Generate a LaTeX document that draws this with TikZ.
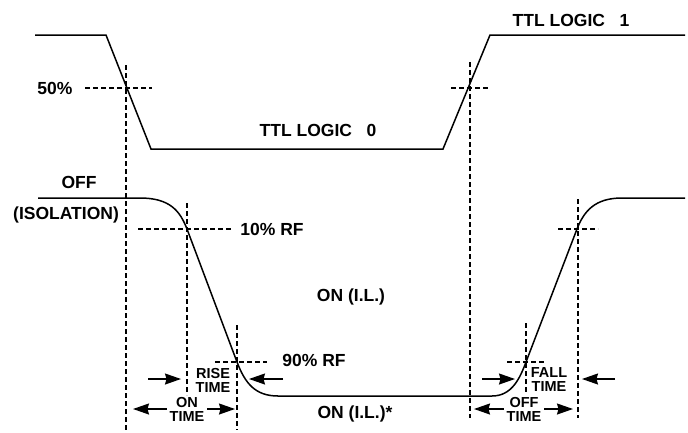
\documentclass[tikz,border=0pt]{standalone}
\usepackage{fontspec}
\setmainfont{Liberation Sans}
\usetikzlibrary{arrows.meta}

\begin{document}
\begin{tikzpicture}[x=1pt,y=-1pt,line width=1.5pt,>=Stealth,
  guide/.style={line width=1.2pt,dash pattern=on 5pt off 3pt},
  tarr/.style={->,line width=1.4pt,>={Stealth[length=16pt,width=11pt,inset=1.5pt]}},
  lbl/.style={font=\fontsize{17.5}{20}\selectfont\bfseries,inner sep=0pt},
  slbl/.style={font=\fontsize{14.5}{14}\selectfont\bfseries,align=center,inner sep=0pt}]
\useasboundingbox (0,0) rectangle (688,432);
% TTL control signal
\draw (35,35) -- (106,35) -- (151,149) -- (443,149) -- (490,35) -- (685,35);
% RF switch response
\draw (38,198) -- (140,198) .. controls (170,198) and (180,211) .. (187,229)
  -- (237,362) .. controls (245,383) and (255,396) .. (278,396)
  -- (492,396) .. controls (512,396) and (520,378) .. (526,362)
  -- (577,229) .. controls (584,211) and (595,198) .. (622,198) -- (685,198);
% dashed markers
\draw[guide] (126,65) -- (126,430);
\draw[guide] (470,62) -- (470,418);
\draw[guide] (187,203) -- (187,395);
\draw[guide] (237,325) -- (237,430);
\draw[guide] (526,323) -- (526,392);
\draw[guide] (578,199) -- (578,418);
\draw[guide] (85,88) -- (152,88);
\draw[guide] (451,88) -- (490,88);
\draw[guide] (138,229) -- (232,229);
\draw[guide] (558,229) -- (598,229);
\draw[guide] (215,362) -- (267,362);
\draw[guide] (507,362) -- (546,362);
% labels
\node[lbl] (half) at (55,88) {50\%};
\node[lbl] (logiclo) at (318,130) {TTL LOGIC\ \ \ 0};
\node[lbl] (logichi) at (571,20) {TTL LOGIC\ \ \ 1};
\node[lbl] (off) at (79,182) {OFF};
\node[lbl] (iso) at (66,215) {(ISOLATION)};
\node[lbl] (tenrf) at (272,229) {10\% RF};
\node[lbl] (ninerf) at (314,360) {90\% RF};
\node[lbl] (onil) at (351,297) {ON (I.L.)};
\node[lbl] (onilst) at (355,414) {ON (I.L.)*};
\node[slbl] (rise) at (213,380) {RISE\\TIME};
\node[slbl] (fall) at (549,380) {FALL\\TIME};
\node[slbl] (ontime) at (187,409) {ON\\TIME};
\node[slbl] (offtime) at (524,409) {OFF\\TIME};
% timing arrows
\coordinate (riseL) at (148,379);
\coordinate (riseR) at (283,379);
\coordinate (fallL) at (482,379);
\coordinate (fallR) at (615,379);
\coordinate (onL) at (133,409);
\coordinate (onR) at (235,409);
\coordinate (offL) at (474,409);
\coordinate (offR) at (573,409);
\draw[tarr] (riseL) -- ++(33,0);
\draw[tarr] (riseR) -- ++(-34,0);
\draw[tarr] (fallL) -- ++(33,0);
\draw[tarr] (fallR) -- ++(-33,0);
\draw[tarr] ([xshift=-2pt]ontime.west) -- (onL);
\draw[tarr] ([xshift=2pt]ontime.east) -- (onR);
\draw[tarr] ([xshift=-2pt]offtime.west) -- (offL);
\draw[tarr] ([xshift=2pt]offtime.east) -- (offR);
\end{tikzpicture}
\end{document}
